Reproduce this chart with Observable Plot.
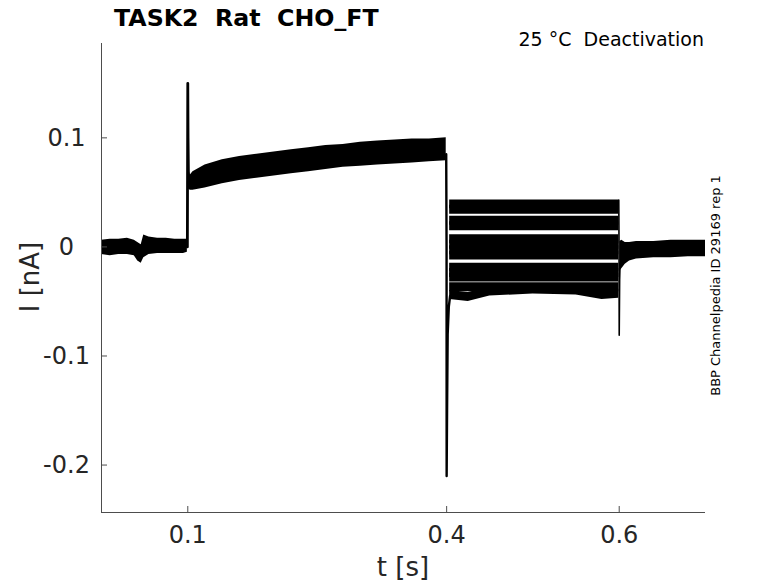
<!DOCTYPE html>
<html><head><meta charset="utf-8">
<script src="https://cdn.jsdelivr.net/npm/d3@7"></script>
<script src="https://cdn.jsdelivr.net/npm/@observablehq/plot@0.6"></script>
<style>body{margin:0;background:#fff} #chart{position:relative;width:778px;height:583px}</style>
</head><body><div id="chart"></div>
<script>
// ---- tick labels ----
const xTicks = [0.1, 0.4, 0.6];
const xTickLabels = ["0.1", "0.4", "0.6"];
const yTicks = [0.1, 0, -0.1, -0.2];
const yTickLabels = ["0.1", "0", "-0.1", "-0.2"];

// ---- holding baseline 0 - 0.1 s (noise envelope, nA) ----
const baseT  = [0, 0.01, 0.02, 0.03, 0.038, 0.042, 0.046, 0.049, 0.055, 0.065, 0.075, 0.085, 0.095, 0.0995];
const baseHi = [0.006, 0.007, 0.007, 0.008, 0.006, 0.004, 0.002, 0.011, 0.009, 0.008, 0.008, 0.007, 0.007, 0.007];
const baseLo = [-0.007, -0.008, -0.007, -0.007, -0.008, -0.013, -0.015, -0.010, -0.007, -0.006, -0.006, -0.006, -0.006, -0.005];

// ---- activation step 0.1 - 0.4 s (envelope of all sweeps) ----
const actT  = [0.1006, 0.103, 0.106, 0.12, 0.14, 0.16, 0.18, 0.2, 0.22, 0.24, 0.26, 0.28, 0.3, 0.32, 0.34, 0.36, 0.38, 0.3995];
const actHi = [0.073, 0.066, 0.069, 0.075, 0.080, 0.083, 0.085, 0.087, 0.089, 0.091, 0.093, 0.094, 0.096, 0.097, 0.098, 0.099, 0.099, 0.100];
const actLo = [0.053, 0.052, 0.052, 0.054, 0.058, 0.061, 0.063, 0.065, 0.067, 0.069, 0.071, 0.073, 0.074, 0.075, 0.076, 0.077, 0.078, 0.079];

// ---- onset transient at 0.1 s ----
const onsetT = [0.0995, 0.0999, 0.1, 0.1003, 0.1008];
const onsetY = [0.0, 0.12, 0.150, 0.10, 0.062];

// ---- tail transient at 0.4 s ----
const tailT = [0.3995, 0.3999, 0.4, 0.4005, 0.4012, 0.4025, 0.404];
const tailY = [0.085, 0.0, -0.210, -0.15, -0.08, -0.055, -0.045];

// ---- deactivation step 0.4 - 0.6 s: one level per sweep ----
const deactT = [0.4035, 0.425, 0.45, 0.5, 0.55, 0.58, 0.5995];
const deactLevels = [0.039, 0.034, 0.024, 0.019, 0.007, 0.002, -0.003, -0.008, -0.019, -0.024, -0.028, -0.037, -0.041];
const deactLowest = [-0.044, -0.046, -0.041, -0.039, -0.040, -0.044, -0.043];
const deactNoise = 0.0041;

// ---- end transient at 0.6 s ----
const endT = [0.5995, 0.5998, 0.6, 0.6005, 0.601];
const endY = [0.043, 0.0, -0.081, -0.03, -0.015];

// ---- return to holding 0.6 - 0.7 s ----
const postT  = [0.6008, 0.603, 0.607, 0.612, 0.62, 0.64, 0.66, 0.68, 0.7];
const postHi = [0.005, 0.006, 0.004, 0.004, 0.005, 0.005, 0.006, 0.006, 0.006];
const postLo = [-0.022, -0.020, -0.016, -0.013, -0.011, -0.010, -0.010, -0.009, -0.009];

// ---- build tables ----
const bands = [];
baseT.forEach((t, i) => bands.push({seg: "base", t, lo: baseLo[i], hi: baseHi[i]}));
actT.forEach((t, i) => bands.push({seg: "act", t, lo: actLo[i], hi: actHi[i]}));
postT.forEach((t, i) => bands.push({seg: "post", t, lo: postLo[i], hi: postHi[i]}));
deactLevels.forEach((L, k) => deactT.forEach((t, i) => {
  const c = k === deactLevels.length - 1 ? deactLowest[i] : L;
  bands.push({seg: "d" + k, t, lo: c - deactNoise, hi: c + deactNoise});
}));
const onset = onsetT.map((t, i) => ({t, y: onsetY[i]}));
const tail = tailT.map((t, i) => ({t, y: tailY[i]}));
const end = endT.map((t, i) => ({t, y: endY[i]}));

const W = 778, H = 583, mL = 101, mR = 73, mT = 43, mB = 71;
const xDomain = [0, 0.7], yDomain = [-0.2435, 0.1865];
const fw = W - mL - mR, fh = H - mT - mB;
const font = "DejaVu Sans";

const plot = Plot.plot({
  width: W, height: H,
  marginLeft: mL, marginRight: mR, marginTop: mT, marginBottom: mB,
  x: {domain: xDomain},
  y: {domain: yDomain},
  style: {fontFamily: font, fontSize: "24px", color: "#262626", background: "#fff"},
  marks: [
    Plot.areaY(bands, {x: "t", y1: "lo", y2: "hi", z: "seg", fill: "#000"}),
    Plot.line(onset, {x: "t", y: "y", stroke: "#000", strokeWidth: 2.8}),
    Plot.line(tail, {x: "t", y: "y", stroke: "#000", strokeWidth: 2.4}),
    Plot.line(end, {x: "t", y: "y", stroke: "#000", strokeWidth: 1.6}),
    Plot.ruleX([xDomain[0]], {stroke: "#4d4d4d", strokeWidth: 1}),
    Plot.ruleY([yDomain[0]], {stroke: "#4d4d4d", strokeWidth: 1}),
    Plot.tickX(xTicks, {x: d => d, insetTop: fh - 6, stroke: "#4d4d4d"}),
    Plot.tickY(yTicks, {y: d => d, insetRight: fw - 6, stroke: "#4d4d4d"}),
    Plot.axisX(xTicks, {tickSize: 0, tickPadding: 13, label: null, fontSize: 24,
      tickFormat: d => xTickLabels[xTicks.indexOf(d)]}),
    Plot.axisY(yTicks, {tickSize: 0, tickPadding: 35, label: null, fontSize: 24, textAnchor: "middle",
      tickFormat: d => yTickLabels[yTicks.indexOf(d)]})
  ]
});

const svg = d3.select(plot);
svg.append("text").attr("x", 114).attr("y", 26).attr("text-anchor", "start").attr("font-family", font)
  .attr("font-weight", "bold").attr("font-size", 23.7).attr("fill", "#000")
  .style("white-space", "pre").text("TASK2  Rat  CHO_FT");
svg.append("text").attr("x", 704).attr("y", 46).attr("text-anchor", "end").attr("font-family", font)
  .attr("font-size", 19).attr("fill", "#000").style("white-space", "pre").text("25 °C  Deactivation");
svg.append("text").attr("transform", "translate(403,576)").attr("text-anchor", "middle")
  .attr("font-family", font).attr("font-size", 26).attr("fill", "#262626").text("t [s]");
svg.append("text").attr("transform", "translate(38.5,277) rotate(-90)").attr("text-anchor", "middle")
  .attr("font-family", font).attr("font-size", 26).attr("fill", "#262626").text("I [nA]");
svg.append("text").attr("transform", "translate(719.5,285.5) rotate(-90)").attr("text-anchor", "middle")
  .attr("font-family", font).attr("font-size", 13).attr("fill", "#000").text("BBP Channelpedia ID 29169 rep 1");

document.getElementById("chart").appendChild(plot);
</script></body></html>
